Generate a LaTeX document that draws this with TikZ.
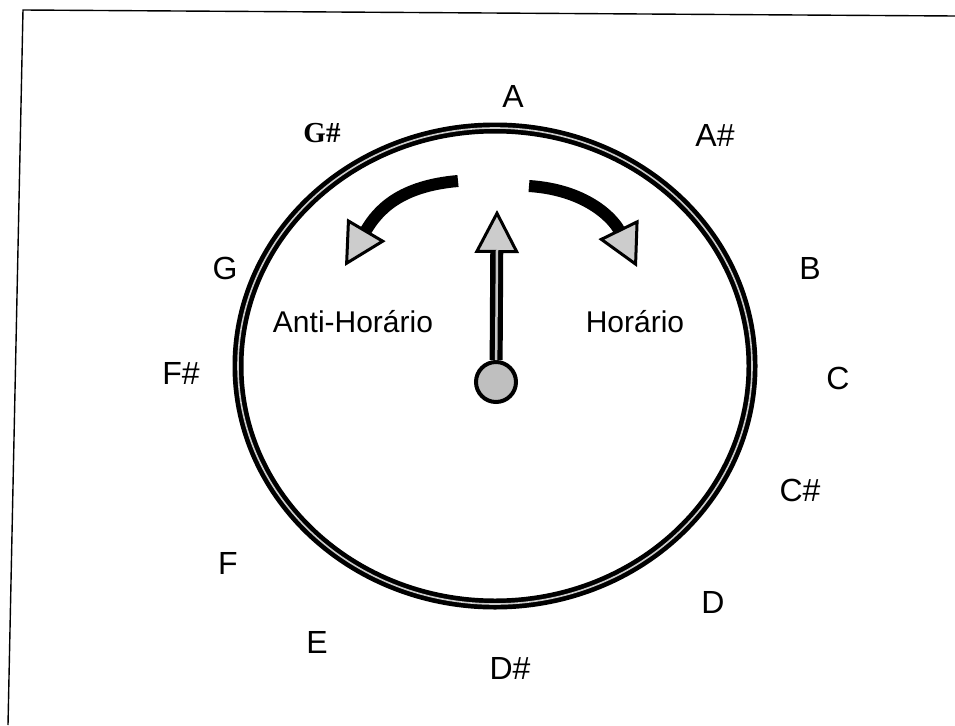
\documentclass[tikz,border=0pt]{standalone}
\usepackage{fontspec}
\setmainfont{Liberation Sans}
\newfontfamily\sharpserif{Liberation Serif}
\usetikzlibrary{arrows.meta,positioning,calc}

\begin{document}
\begin{tikzpicture}[
    x=1pt,y=-1pt,
    note/.style={inner sep=0pt,font=\fontsize{32}{36}\selectfont},
    sense/.style={inner sep=0pt,font=\fontsize{30}{36}\selectfont},
    frame/.style={line width=1.4pt},
    ring/.style={line width=11pt},
    ringcore/.style={line width=1.6pt,gray!40},
    hubknob/.style={circle,draw,line width=4pt,fill=gray!50,minimum size=40pt,inner sep=0pt},
    turn/.style={line width=12pt,-{Triangle[length=42pt,width=44pt,line width=3pt,fill=gray!40]}},
    needle/.style={line width=13pt,-{Triangle[length=43pt,width=44pt,line width=3pt,fill=gray!40]}},
    needlecore/.style={line width=2.5pt,gray!45}
    ]

    \useasboundingbox (0,0) rectangle (955,725);

    % scanned page frame
    \draw[frame] (955,16) -- (23,10) -- (8,725);

    % the dial
    \coordinate (mid) at (495,366);
    \draw[ring] (mid) ellipse [x radius=257,y radius=238];
    \draw[ringcore] (mid) ellipse [x radius=257,y radius=238];

    \node[note] (A) at (513,96) {A};
    \node[note] (Asharp) at (715,135) {A\#};
    \node[note] (B) at (810,268) {B};
    \node[note] (C) at (838,378) {C};
    \node[note] (Csharp) at (800,490) {C\#};
    \node[note] (D) at (713,602) {D};
    \node[note] (Dsharp) at (510,668) {D\#};
    \node[note] (E) at (317,642) {E};
    \node[note] (F) at (228,563) {F};
    \node[note] (Fsharp) at (181,373) {F\#};
    \node[note] (G) at (225,268) {G};
    \node[note,font=\sharpserif\bfseries\fontsize{29}{34}\selectfont] (Gsharp) at (322,133) {G\#};

    \node[sense] (ccw) at (353,322) {Anti-Horário};
    \node[sense] (cw) at (635,322) {Horário};

    % turning arrows
    \coordinate (ccwstart) at (458,181);
    \coordinate (ccwend) at (345,266);
    \coordinate (cwstart) at (529,186);
    \coordinate (cwend) at (637,267);
    \draw[turn] (ccwstart) .. controls (400,186) and (378,210) .. (ccwend);
    \draw[turn] (cwstart) .. controls (590,190) and (615,222) .. (cwend);

    % pointer
    \node[hubknob] (hub) at (496,382) {};
    \coordinate (tip) at (497,210);
    \coordinate (tipbase) at (497,250);
    \draw[needle] (hub) -- (tip);
    \draw[needlecore] (hub) -- (tipbase);

  \end{tikzpicture}
\end{document}
